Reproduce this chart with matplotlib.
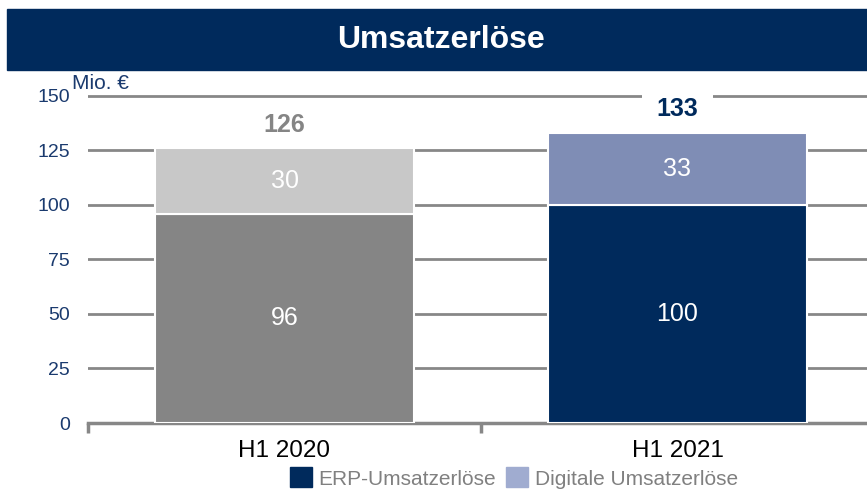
"""Umsatzerlöse H1 2020 vs H1 2021 — stacked bar chart."""

import matplotlib
matplotlib.use("Agg")
import matplotlib.pyplot as plt  # noqa: E402
from matplotlib.patches import Patch, Rectangle  # noqa: E402

plt.rcParams["font.family"] = ["Liberation Sans", "DejaVu Sans"]

NAVY = "#002a5c"
GRID = "#878787"

periods = ["H1 2020", "H1 2021"]
erp = [96, 100]
digital = [30, 33]
totals = [126, 133]
yticks = [0, 25, 50, 75, 100, 125, 150]

# per-bar colours (prior year greyed out)
erp_colors = ["#858585", NAVY]
digital_colors = ["#c8c8c8", "#7f8db5"]
total_colors = ["#858585", NAVY]

fig = plt.figure(figsize=(8.67, 4.91), dpi=100)

# title banner
fig.patches.append(Rectangle((7 / 867, 0.857), 1 - 7 / 867, 0.125,
                             transform=fig.transFigure, color=NAVY, zorder=0))
fig.text(0.509, 0.919, "Umsatzerlöse", color="white", fontsize=23,
         fontweight="bold", ha="center", va="center")

ax = fig.add_axes([88 / 867, 68 / 491, 1 - 88 / 867, 331.4 / 491])
x = list(range(len(periods)))
w = 0.657
ax.bar(x, erp, w, color=erp_colors, edgecolor="white", linewidth=1.5, zorder=3)
ax.bar(x, digital, w, bottom=erp, color=digital_colors, edgecolor="white",
       linewidth=1.5, zorder=3)

for i in x:
    ax.text(i, erp[i] / 2, str(erp[i]), color="white", fontsize=18,
            ha="center", va="center", zorder=4)
    ax.text(i, erp[i] + digital[i] / 2, str(digital[i]), color="white",
            fontsize=18, ha="center", va="center", zorder=4)
    # white box hides the gridline behind the total, but stays under the bars
    ax.annotate(str(totals[i]), (i, totals[i]), xytext=(0, 17),
                textcoords="offset points", color=total_colors[i],
                fontsize=18, fontweight="bold", ha="center", va="center",
                zorder=2,
                bbox=dict(boxstyle="square,pad=0.6", fc="white", ec="none"))

ax.set_xlim(-0.5, -0.5 + 779 / 393)
ax.set_ylim(0, 152)
ax.set_yticks(yticks)
ax.yaxis.grid(True, color=GRID, linewidth=2, zorder=0)
ax.set_axisbelow(True)
ax.tick_params(axis="y", length=0, pad=13, labelsize=14, labelcolor="#1a3a6e")

ax.set_xticks(x)
ax.set_xticklabels(periods)
ax.set_xticks([-0.5, 0.5], minor=True)
ax.tick_params(axis="x", which="major", length=0, pad=12, labelsize=17.5,
               labelcolor="black")
ax.tick_params(axis="x", which="minor", length=7, width=2.5, color=GRID,
               direction="out")

for side in ("top", "right", "left"):
    ax.spines[side].set_visible(False)
ax.spines["bottom"].set_color(GRID)
ax.spines["bottom"].set_linewidth(2.5)

fig.text(72 / 867, 1 - 93 / 491, "Mio. €", color="#1a3a6e", fontsize=15,
         ha="left", va="bottom")

handles = [Patch(color=NAVY, label="ERP-Umsatzerlöse"),
           Patch(color="#a0acd0", label="Digitale Umsatzerlöse")]
leg = fig.legend(handles=handles, loc="center", bbox_to_anchor=(514 / 867, 1 - 478 / 491),
                 ncol=2, frameon=False, fontsize=15, handlelength=1.05,
                 handleheight=1.1, handletextpad=0.3, columnspacing=0.5,
                 borderpad=0, borderaxespad=0)
for t in leg.get_texts():
    t.set_color("#808080")

fig.savefig("out.png", dpi=100)
